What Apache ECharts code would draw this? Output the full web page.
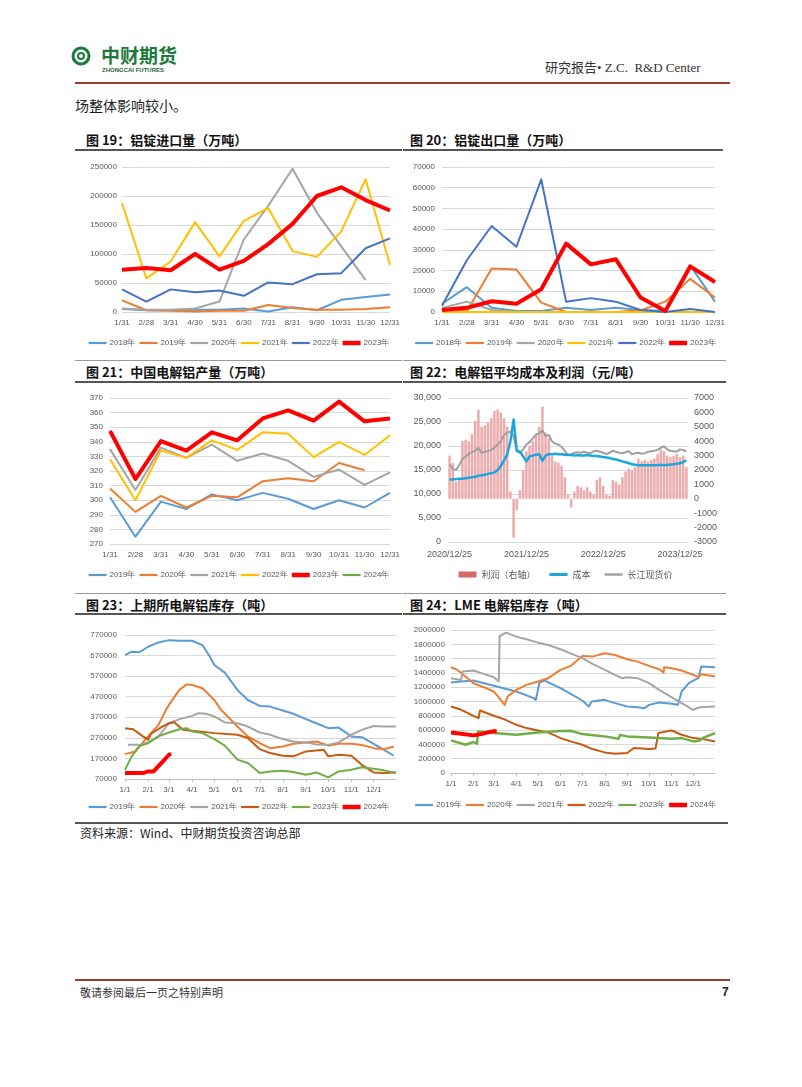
<!DOCTYPE html>
<html><head><meta charset="utf-8">
<script src="https://cdn.jsdelivr.net/npm/echarts/dist/echarts.min.js"></script>
<style>
body{margin:0;width:802px;height:1087px;position:relative;background:#fff;overflow:hidden;font-family:"Noto Sans CJK SC",sans-serif;}
.a{position:absolute;white-space:pre;}
.t{position:absolute;font-size:13px;font-weight:bold;color:#111;line-height:16px;white-space:pre;}
.ln{position:absolute;}
.ch{position:absolute;}
</style></head><body>
<!-- header -->
<svg class="a" style="left:71px;top:45px" width="20" height="22"><circle cx="10" cy="11" r="8" fill="none" stroke="#1D7A3A" stroke-width="3"/><circle cx="10" cy="11" r="3" fill="#fff" stroke="#1D7A3A" stroke-width="2"/></svg>
<div class="a" style="left:101px;top:44px;font-size:19px;font-weight:bold;color:#1D7A3A;line-height:22px;letter-spacing:0px">中财期货</div>
<div class="a" style="left:102px;top:66px;font-size:6px;font-weight:bold;color:#1D5E33;line-height:8px;font-family:'Liberation Sans',Arial">ZHONGCAI FUTURES</div>
<div class="a" style="left:545px;top:60px;font-size:13px;color:#333;line-height:16px;font-family:'Liberation Serif','Noto Sans CJK SC'">研究报告• Z.C.  R&amp;D Center</div>
<div class="ln" style="left:75px;top:82px;width:655px;height:2px;background:#9E3B2A"></div>
<div class="a" style="left:75px;top:96px;font-size:14px;color:#222;line-height:18px">场整体影响较小。</div>

<!-- titles -->
<div class="t" style="left:86px;top:132px">图 19：铝锭进口量（万吨）</div>
<div class="t" style="left:410px;top:132px">图 20：铝锭出口量（万吨）</div>
<div class="ln" style="left:75px;top:149px;width:327px;height:2px;background:#555"></div>
<div class="ln" style="left:403px;top:149px;width:320px;height:2px;background:#555"></div>

<div class="ln" style="left:75px;top:360px;width:327px;height:1px;background:#999"></div>
<div class="ln" style="left:403px;top:360px;width:323px;height:1px;background:#999"></div>
<div class="t" style="left:86px;top:364px">图 21：中国电解铝产量（万吨）</div>
<div class="t" style="left:410px;top:364px">图 22：电解铝平均成本及利润（元/吨）</div>
<div class="ln" style="left:75px;top:381px;width:327px;height:2px;background:#555"></div>
<div class="ln" style="left:403px;top:381px;width:323px;height:2px;background:#555"></div>

<div class="ln" style="left:75px;top:593px;width:327px;height:1px;background:#999"></div>
<div class="ln" style="left:403px;top:593px;width:323px;height:1px;background:#999"></div>
<div class="t" style="left:86px;top:597px">图 23：上期所电解铝库存（吨）</div>
<div class="t" style="left:410px;top:597px">图 24：LME 电解铝库存（吨）</div>
<div class="ln" style="left:75px;top:613px;width:327px;height:2px;background:#555"></div>
<div class="ln" style="left:403px;top:613px;width:323px;height:2px;background:#555"></div>

<div class="ch" id="c19" style="left:75px;top:152px;width:328px;height:200px"></div>
<div class="ch" id="c20" style="left:403px;top:152px;width:325px;height:200px"></div>
<div class="ch" id="c21" style="left:75px;top:384px;width:328px;height:200px"></div>
<div class="ch" id="c22" style="left:403px;top:384px;width:325px;height:200px"></div>
<div class="ch" id="c23" style="left:75px;top:616px;width:328px;height:200px"></div>
<div class="ch" id="c24" style="left:403px;top:616px;width:325px;height:200px"></div>

<!-- source -->
<div class="ln" style="left:75px;top:822px;width:653px;height:2px;background:#555"></div>
<div class="a" style="left:80px;top:825px;font-size:12px;color:#222;line-height:16px">资料来源：Wind、中财期货投资咨询总部</div>

<!-- footer -->
<div class="ln" style="left:75px;top:979px;width:655px;height:2px;background:#9E3B2A"></div>
<div class="a" style="left:80px;top:985px;font-size:11px;color:#333;line-height:15px">敬请参阅最后一页之特别声明</div>
<div class="a" style="left:722px;top:984px;font-size:12px;font-weight:bold;color:#222;line-height:16px;font-family:'Liberation Sans',Arial">7</div>

<script>
// ===== Data =====
const months = ['1/31','2/28','3/31','4/30','5/31','6/30','7/31','8/31','9/30','10/31','11/30','12/31'];

// Fig 19: imports
const imp2018 = [5000,3000,3000,4000,4000,6000,1000,8000,3000,21000,26000,30000];
const imp2019 = [20000,3000,2000,1000,2000,2000,12000,7000,4000,4000,5000,8000];
const imp2020 = [6000,4000,4000,6000,18000,125000,183000,247000,171000,113000,55000,null];
const imp2021 = [188000,58000,87000,155000,96000,157000,179000,105000,95000,139000,229000,81000];
const imp2022 = [39000,18000,39000,34000,37000,28000,51000,48000,65000,67000,110000,127000];
const imp2023 = [73000,76000,72000,100000,73000,88000,117000,152000,200000,215000,193000,175000];

// Fig 20: exports
const exp2018 = [4000,12000,2000,500,500,2000,1000,2000,1000,500,22500,5000];
const exp2019 = [2000,300,21000,20500,4500,0,0,0,800,5000,16000,7000];
const exp2020 = [2000,5000,1000,0,0,0,0,0,0,0,0,0];
const exp2021 = [0,0,0,0,0,0,0,0,0,0,0,0];
const exp2022 = [3000,25000,41500,31500,64000,5000,6700,5000,1000,0,1500,0];
const exp2023 = [1000,2000,5200,4000,11000,33000,23000,25500,7000,500,22000,14500];

// Fig 21: production
const prod2019 = [302,275,299,294,304,300,305,301,294,300,295,305];
const prod2020 = [308,292,303,295,303,302,313,315,313,325.5,320.5,null];
const prod2021 = [335,307,336,329,338,327,332,327,316,321,310.5,319];
const prod2022 = [328,300,334,329,341,334.5,346.5,345.5,329.5,340,331,344.5];
const prod2023 = [347.5,314.5,340.5,334,346.5,341,356,361.5,354.5,367.5,354,356];
const prod2024 = [];

// Fig 22: cost & profit (semi-monthly from 2020/12/25)
const profit22 = [3000,2500,1200,1300,4000,4100,4000,4500,5400,6200,5000,5100,5300,5600,6100,6200,6000,5600,5000,500,-2700,-800,600,2000,3300,3700,4000,4500,5000,6400,4600,4200,3000,2600,2500,2300,1500,300,-600,500,900,800,600,800,500,300,1300,1500,900,300,200,1300,1200,1000,1500,1900,2100,2000,2200,2800,2600,2700,2600,2700,2800,3100,3400,3300,3000,2900,3000,3100,2900,3000,2200];
const cost22 = [13000,13000,13100,13200,13200,13300,13400,13500,13600,13800,13900,14000,14200,14300,14500,15000,15800,17000,18200,21000,25500,19000,18800,17800,16800,17800,18000,18200,18300,16900,18000,18300,18300,18400,18300,18300,18200,18200,18100,18000,18100,18000,18000,18100,18000,17900,17900,17800,17700,17600,17500,17300,17200,17000,16800,16600,16400,16200,16100,16000,16000,16000,16000,16000,16000,16000,16100,16000,16100,16100,16200,16300,16400,16700,17000];
const spot22 = [16200,15200,15000,16000,17300,17800,18300,18800,19000,19600,18600,18800,18900,19200,19600,20300,21000,22300,22800,23000,22000,19000,18500,19300,20300,20800,21600,22400,22600,23300,22100,22300,21000,20500,20300,19800,19000,18000,18300,18600,18700,18600,18800,18600,18500,18900,19000,18800,18600,18300,18600,19000,18800,18600,18500,18700,18900,18300,18500,18600,18400,18500,18800,18900,19000,19200,19600,19900,19300,19000,18900,18800,19300,19100,18900];

// Fig 23: SHFE inventory [day, tonnes]
const shfe2019 = [['1/1',672600],['1/10',689000],['1/20',686000],['2/1',713000],['2/15',734000],['3/1',745000],['3/15',742000],['4/1',742000],['4/15',721000],['4/25',664000],['5/1',624000],['5/15',587000],['6/1',503000],['6/15',454000],['7/1',425000],['7/15',422000],['8/1',403000],['8/15',387000],['9/1',361000],['9/15',341000],['10/1',317000],['10/15',320000],['11/1',277000],['11/15',273000],['12/1',241000],['12/15',212000],['12/28',183000]];
const shfe2020 = [['1/1',191000],['1/15',204000],['2/1',277000],['2/15',333000],['2/25',406000],['3/1',430000],['3/15',503000],['3/25',530000],['4/1',527000],['4/15',511000],['5/1',454000],['5/10',406000],['5/20',370000],['6/1',325000],['6/15',277000],['7/1',244000],['7/15',220000],['8/1',228000],['8/15',241000],['9/1',248000],['9/15',252000],['10/1',232000],['10/15',241000],['11/1',241000],['11/15',235000],['12/1',220000],['12/15',215000],['12/28',228000]];
const shfe2021 = [['1/5',236000],['1/20',236000],['2/1',248000],['2/15',277000],['3/1',341000],['3/15',361000],['4/1',377000],['4/10',390000],['4/20',387000],['5/1',374000],['5/15',345000],['6/1',341000],['6/15',325000],['7/1',296000],['7/15',285000],['8/1',264000],['8/15',252000],['9/1',248000],['9/15',238000],['10/1',236000],['10/15',248000],['11/1',285000],['11/15',309000],['12/1',328000],['12/15',325000],['12/31',325000]];
const shfe2022 = [['1/1',317000],['1/12',312000],['1/25',277000],['2/1',261000],['2/5',290000],['2/20',325000],['3/1',341000],['3/8',346000],['3/20',309000],['4/1',304000],['5/1',293000],['6/1',285000],['6/15',269000],['7/1',215000],['7/15',196000],['8/1',183000],['8/15',180000],['9/1',204000],['9/25',212000],['10/1',180000],['10/15',188000],['11/1',183000],['11/15',139000],['12/1',102000],['12/15',99000],['12/31',102000]];
const shfe2023 = [['1/1',115000],['1/10',180000],['1/20',230000],['2/1',244000],['2/15',277000],['3/1',296000],['3/15',312000],['3/25',317000],['4/1',301000],['4/15',293000],['5/1',264000],['5/15',232000],['6/1',164000],['6/15',148000],['7/1',99000],['7/15',106000],['8/1',110000],['8/15',104000],['9/1',91000],['9/15',102000],['10/1',78000],['10/15',107000],['11/1',115000],['11/15',127000],['12/1',120000],['12/15',112000],['12/31',99000]];
const shfe2024 = [['1/1',99000],['1/25',99000],['2/1',107000],['2/8',106000],['2/21',156000],['3/1',188000],['3/4',193000]];

// Fig 24: LME inventory [day, tonnes]
const lme2019 = [['1/1',1265000],['1/15',1279000],['2/1',1293000],['3/1',1219000],['4/1',1140000],['4/25',1047000],['4/28',1023000],['5/3',1265000],['5/10',1293000],['6/1',1186000],['6/15',1107000],['7/1',1014000],['7/10',930000],['7/14',1000000],['8/1',1023000],['8/15',977000],['9/1',930000],['9/15',921000],['9/25',907000],['10/1',953000],['10/15',986000],['11/1',967000],['11/10',953000],['11/15',1140000],['11/25',1256000],['12/1',1293000],['12/8',1326000],['12/12',1488000],['12/31',1479000]];
const lme2020 = [['1/1',1479000],['1/10',1442000],['2/1',1256000],['2/15',1200000],['3/1',1140000],['3/16',953000],['3/20',1070000],['4/1',1163000],['4/15',1233000],['5/1',1279000],['5/15',1326000],['6/1',1442000],['6/15',1498000],['7/1',1637000],['7/15',1628000],['8/1',1674000],['8/15',1651000],['9/1',1591000],['9/15',1558000],['10/1',1498000],['10/15',1451000],['10/21',1405000],['10/22',1479000],['11/1',1465000],['11/15',1433000],['12/1',1372000],['12/8',1340000],['12/12',1381000],['12/31',1349000]];
const lme2021 = [['1/1',1326000],['1/15',1302000],['1/17',1419000],['2/1',1433000],['2/15',1386000],['3/1',1340000],['3/8',1279000],['3/9',1916000],['3/18',1963000],['4/1',1907000],['4/15',1870000],['5/1',1823000],['5/15',1791000],['6/1',1730000],['6/15',1674000],['7/1',1605000],['7/15',1526000],['8/1',1442000],['8/15',1372000],['8/25',1326000],['9/1',1340000],['9/15',1326000],['10/1',1256000],['10/15',1163000],['11/1',1060000],['11/15',977000],['12/1',884000],['12/10',921000],['12/31',930000]];
const lme2022 = [['1/1',930000],['1/15',884000],['2/1',800000],['2/8',767000],['2/10',874000],['3/1',800000],['3/15',753000],['4/1',674000],['4/15',628000],['5/1',595000],['5/15',567000],['6/1',488000],['6/15',442000],['7/1',395000],['7/15',335000],['8/1',288000],['8/15',270000],['9/1',279000],['9/10',349000],['10/1',335000],['10/10',344000],['10/14',558000],['11/1',595000],['11/15',535000],['12/1',488000],['12/15',474000],['12/31',442000]];
const lme2023 = [['1/1',456000],['1/21',395000],['2/1',433000],['2/6',410000],['2/7',581000],['3/1',558000],['4/1',535000],['5/1',567000],['6/1',586000],['6/15',591000],['7/1',544000],['8/1',512000],['8/20',479000],['8/22',530000],['9/1',512000],['10/1',498000],['11/1',479000],['11/15',488000],['12/1',442000],['12/10',456000],['12/15',493000],['12/31',558000]];
const lme2024 = [['1/1',567000],['1/15',549000],['2/1',526000],['2/10',540000],['2/20',567000],['3/1',586000],['3/5',581000]];

// ===== Helpers =====
const mdays = [31,28,31,30,31,30,31,31,30,31,30,31];
const days = [];
mdays.forEach((n, m) => { for (let d = 1; d <= n; d++) days.push((m + 1) + '/' + d); });
const dayPts = arr => arr.map(p => [days.indexOf(p[0]), p[1]]);

const dates22 = [];
for (let k = 0; k < profit22.length; k++) {
  const mi = 11 + Math.ceil(k / 2);
  dates22.push((2020 + Math.floor(mi / 12)) + '/' + (mi % 12 + 1) + '/' + (k % 2 === 0 ? 25 : 10));
}

const FONT = "'Liberation Sans', Arial, sans-serif";
const plain = v => String(v);
const lbl = {color:'#595959', fontSize:8, fontFamily:FONT, formatter:plain};
const gridLine = {show:true, lineStyle:{color:'#D9D9D9', width:1}};
const C = {c2018:'#5B9BD5', c2019:'#ED7D31', c2020:'#A5A5A5', c2021:'#FFC000', c2022b:'#4472C4', c2023:'#FF0000', green:'#70AD47', brown:'#C55A11'};
const ICON = 'path://M0,0h18v2.2h-18z';
const ICON_THICK = 'path://M0,0h18v4.5h-18z';

function ls(name, data, color, width) {
  return {name, type:'line', data, symbol:'none', showSymbol:false, lineStyle:{color, width, join:'round'}, itemStyle:{color}, emphasis:{disabled:true}, connectNulls:false};
}
function legend(names, thickName, top, gap) {
  return {top, left:'center', itemWidth:18, itemHeight:5, itemGap:gap, textStyle:{color:'#595959', fontSize:8, fontFamily:FONT, padding:[0,0,0,-2]},
    data: names.map(n => ({name:n, icon: n === thickName ? ICON_THICK : ICON}))};
}
const monthLabelFn = (i, v) => v.split('/')[1] === '1';

function mk(id, opt) {
  const c = echarts.init(document.getElementById(id), null, {renderer:'canvas'});
  opt.animation = false;
  c.setOption(opt);
}

// ===== Fig 19 =====
mk('c19', {
  grid:{left:47, right:6, top:15, height:145},
  legend: legend(['2018年','2019年','2020年','2021年','2022年','2023年'], '2023年', 182, 4),
  xAxis:{type:'category', data:months, boundaryGap:false, axisLine:{show:false}, axisTick:{show:false}, axisLabel:{...lbl, interval:0, margin:7}},
  yAxis:{type:'value', min:0, max:250000, interval:50000, axisLabel:{...lbl, margin:5}, splitLine:gridLine, axisLine:{show:false}, axisTick:{show:false}},
  series:[
    ls('2018年', imp2018, C.c2018, 2), ls('2019年', imp2019, C.c2019, 2), ls('2020年', imp2020, C.c2020, 2),
    ls('2021年', imp2021, C.c2021, 2), ls('2022年', imp2022, C.c2022b, 2), ls('2023年', imp2023, C.c2023, 4)
  ]
});

// ===== Fig 20 =====
mk('c20', {
  grid:{left:39, right:8, top:15, height:145},
  legend: legend(['2018年','2019年','2020年','2021年','2022年','2023年'], '2023年', 182, 4),
  xAxis:{type:'category', data:months, boundaryGap:false, axisLine:{show:false}, axisTick:{show:false}, axisLabel:{...lbl, interval:0, margin:7}},
  yAxis:{type:'value', min:0, max:70000, interval:10000, axisLabel:{...lbl, margin:7}, splitLine:gridLine, axisLine:{show:false}, axisTick:{show:false}},
  series:[
    ls('2018年', exp2018, C.c2018, 2), ls('2019年', exp2019, C.c2019, 2), ls('2020年', exp2020, C.c2020, 2),
    ls('2021年', exp2021, C.c2021, 2), ls('2022年', exp2022, C.c2022b, 2), ls('2023年', exp2023, C.c2023, 4)
  ]
});

// ===== Fig 21 =====
mk('c21', {
  grid:{left:35, right:6, top:14, height:146},
  legend: legend(['2019年','2020年','2021年','2022年','2023年','2024年'], '2023年', 182, 4),
  xAxis:{type:'category', data:months, boundaryGap:false, axisLine:{show:false}, axisTick:{show:false}, axisLabel:{...lbl, interval:0, margin:7}},
  yAxis:{type:'value', min:270, max:370, interval:10, axisLabel:{...lbl, margin:7}, splitLine:gridLine, axisLine:{show:false}, axisTick:{show:false}},
  series:[
    ls('2019年', prod2019, C.c2018, 2), ls('2020年', prod2020, C.c2019, 2), ls('2021年', prod2021, C.c2020, 2),
    ls('2022年', prod2022, C.c2021, 2), ls('2023年', prod2023, C.c2023, 4), ls('2024年', prod2024, C.green, 2)
  ]
});

// ===== Fig 22 =====
mk('c22', {
  grid:{left:45, right:40, top:14, height:144},
  legend:{top:181, left:'center', itemWidth:18, itemHeight:6, itemGap:14, textStyle:{color:'#595959', fontSize:9, fontFamily:"'Noto Sans CJK SC', sans-serif"},
    data:[{name:'利润（右轴）', icon:'rect', itemStyle:{color:'#D46A6A'}}, {name:'成本', icon:'path://M0,0h18v3h-18z'}, {name:'长江现货价', icon:'path://M0,0h18v2.4h-18z'}]},
  xAxis:{type:'category', data:dates22, boundaryGap:true, axisLine:{show:false}, axisTick:{show:false},
    axisLabel:{...lbl, fontSize:9, margin:8, interval:(i, v) => v.endsWith('/12/25')}},
  yAxis:[
    {type:'value', min:0, max:30000, interval:5000, axisLabel:{...lbl, fontSize:9, margin:7, formatter:v => v.toLocaleString('en-US')}, splitLine:gridLine, axisLine:{show:false}, axisTick:{show:false}},
    {type:'value', min:-3000, max:7000, interval:1000, position:'right', axisLabel:{...lbl, fontSize:9, margin:6}, splitLine:{show:false}, axisLine:{show:false}, axisTick:{show:false}}
  ],
  series:[
    {name:'利润（右轴）', type:'bar', yAxisIndex:1, data:profit22, barCategoryGap:'22%', itemStyle:{color:'#EDAAAA'}, emphasis:{disabled:true}},
    ls('长江现货价', spot22, '#A0A0A0', 2),
    ls('成本', cost22, '#1AA7E0', 2.5)
  ]
});

// ===== Fig 23 =====
const dayAxis = {type:'category', data:days, boundaryGap:false,
  axisLine:{show:true, lineStyle:{color:'#BFBFBF'}}, axisTick:{show:true, interval:monthLabelFn, length:3, lineStyle:{color:'#BFBFBF'}},
  axisLabel:{...lbl, interval:monthLabelFn, margin:7}};
mk('c23', {
  grid:{left:50, right:7, top:19, height:144},
  legend: legend(['2019年','2020年','2021年','2022年','2023年','2024年'], '2024年', 182, 4),
  xAxis: dayAxis,
  yAxis:{type:'value', min:70000, max:770000, interval:100000, axisLabel:{...lbl, margin:8}, splitLine:gridLine, axisLine:{show:false}, axisTick:{show:false}},
  series:[
    ls('2019年', dayPts(shfe2019), C.c2018, 2), ls('2020年', dayPts(shfe2020), C.c2019, 2), ls('2021年', dayPts(shfe2021), C.c2020, 2),
    ls('2022年', dayPts(shfe2022), C.brown, 2), ls('2023年', dayPts(shfe2023), C.green, 2), ls('2024年', dayPts(shfe2024), C.c2023, 4)
  ]
});

// ===== Fig 24 =====
mk('c24', {
  grid:{left:48, right:13, top:14, height:143},
  legend: legend(['2019年','2020年','2021年','2022年','2023年','2024年'], '2024年', 180, 4),
  xAxis: dayAxis,
  yAxis:{type:'value', min:0, max:2000000, interval:200000, axisLabel:{...lbl, margin:6}, splitLine:gridLine, axisLine:{show:false}, axisTick:{show:false}},
  series:[
    ls('2019年', dayPts(lme2019), C.c2018, 2), ls('2020年', dayPts(lme2020), C.c2019, 2), ls('2021年', dayPts(lme2021), C.c2020, 2),
    ls('2022年', dayPts(lme2022), C.brown, 2), ls('2023年', dayPts(lme2023), C.green, 2.5), ls('2024年', dayPts(lme2024), C.c2023, 4)
  ]
});
</script>
</body></html>
